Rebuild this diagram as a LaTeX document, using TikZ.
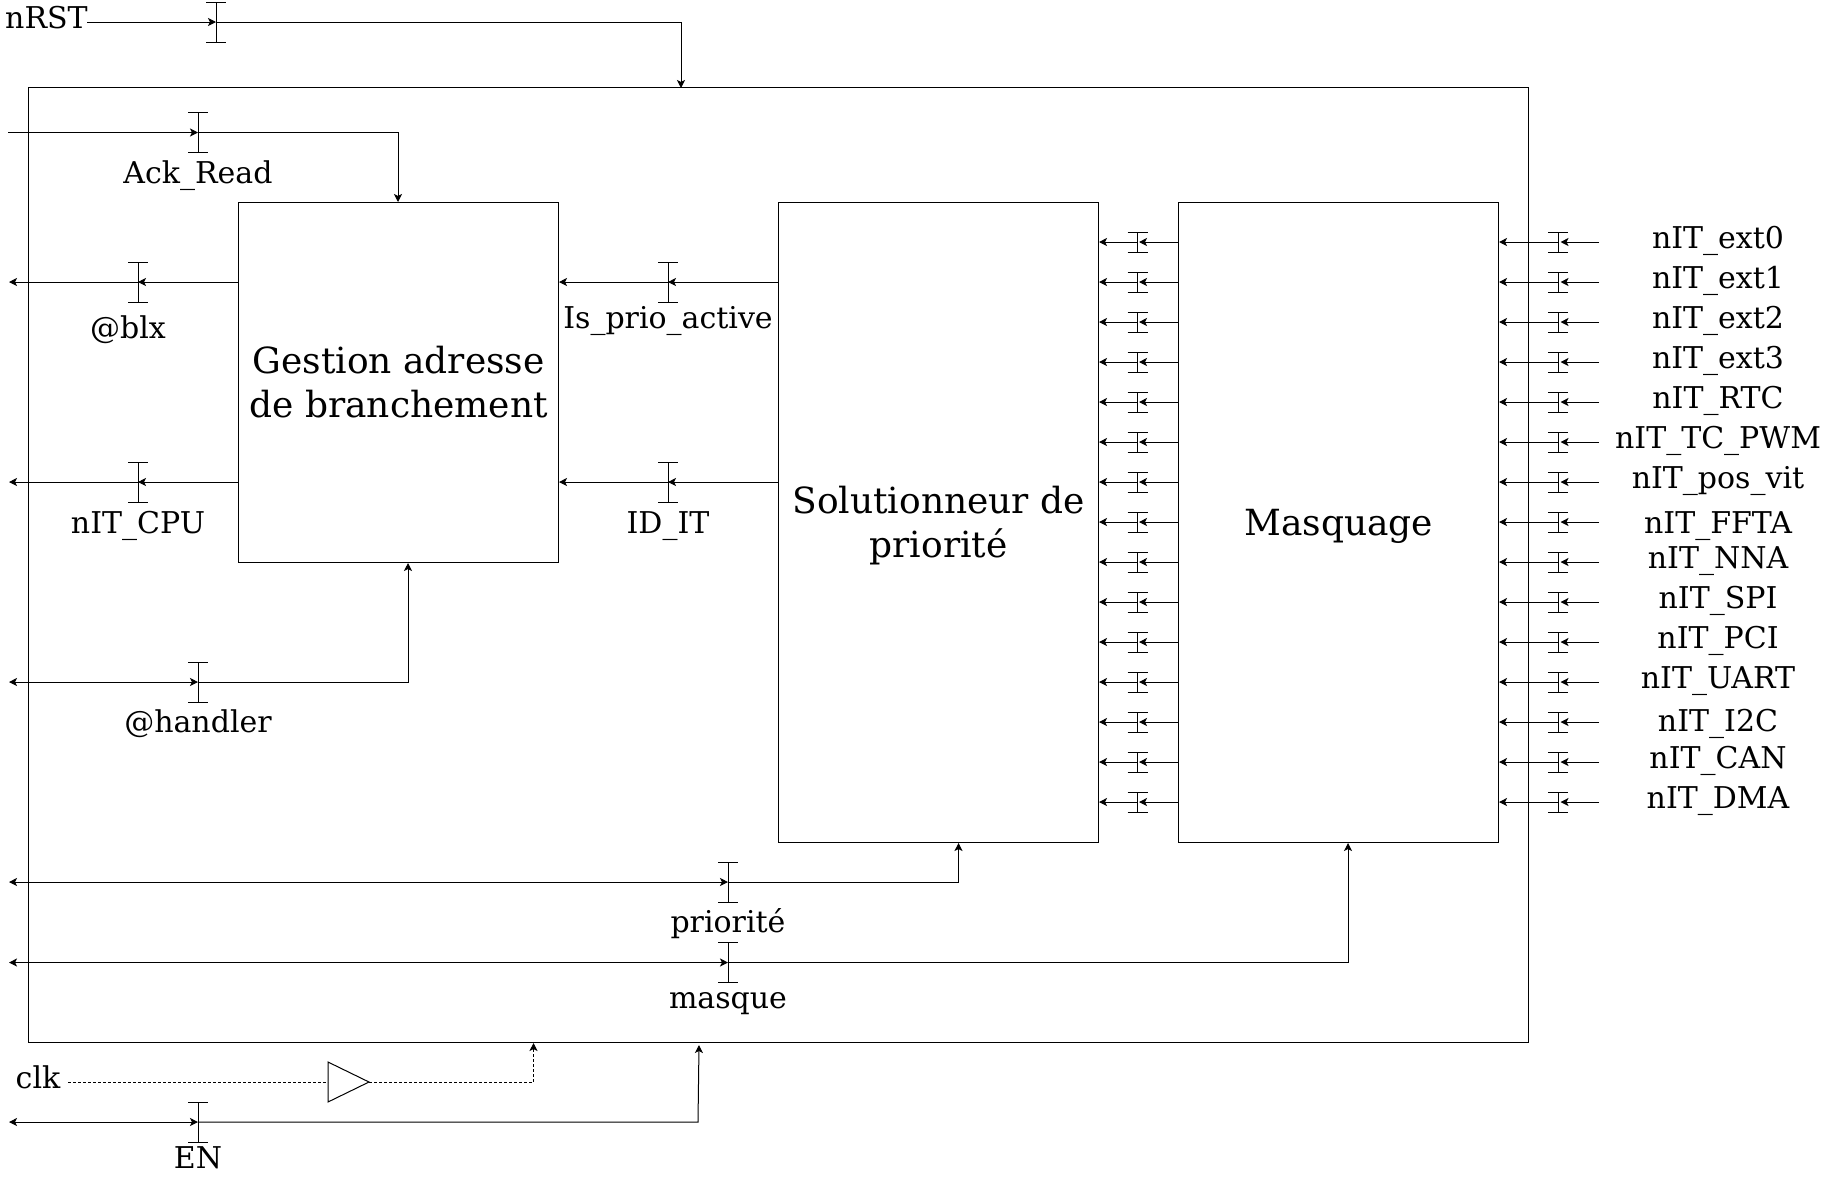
\documentclass[tikz,border=0pt]{standalone}
\usepackage{fontspec}
\setmainfont{DejaVu Serif}
\usetikzlibrary{arrows.meta,calc}
\tikzset{
  x=1pt,y=-1pt,
  wire/.style={line width=1pt,draw=black},
  arr/.style={wire,-{Stealth[length=8pt,width=8pt,inset=2pt]}},
  darr/.style={wire,{Stealth[length=8pt,width=8pt,inset=2pt]}-{Stealth[length=8pt,width=8pt,inset=2pt]}},
  blockbox/.style={draw=black,line width=1pt,minimum width=320pt,inner sep=0pt},
  blocktext/.style={align=center,font=\fontsize{36}{44}\selectfont,inner sep=0pt},
  lab/.style={font=\fontsize{30}{36}\selectfont,inner sep=0pt,anchor=base},
  bar/.style={line width=1pt,draw=black},
  pt/.style={inner sep=0pt,minimum size=0pt,outer sep=0pt},
  clockline/.style={dash pattern=on 3pt off 2pt},
}
% name, x, y, half height
\newcommand{\latchat}[4]{%
  \node[pt] (#1) at (#2,#3) {};
  \draw[bar] (#2,#3-#4) -- (#2,#3+#4);
  \draw[bar] (#2-10,#3-#4) -- (#2+10,#3-#4);
  \draw[bar] (#2-10,#3+#4) -- (#2+10,#3+#4);
}
\begin{document}
\begin{tikzpicture}
\useasboundingbox (0,0) rectangle (1822,1176);
% blocks
\node[draw,line width=1pt,minimum width=1500pt,minimum height=955pt,inner sep=0pt,anchor=north west] (top) at (28,87) {};
\node[blockbox,minimum height=360pt,anchor=north west] (gest) at (238,202) {};
\node[blocktext] (gestT) at (398.7,382) {Gestion adresse\\de branchement};
\node[blockbox,minimum height=640pt,anchor=north west] (sol) at (778,202) {};
\node[blocktext] (solT) at (938.7,526) {Solutionneur de\\priorité};
\node[blockbox,minimum height=640pt,anchor=north west] (mas) at (1178,202) {};
\node[blocktext] (masT) at (1338.7,526) {Masquage};
% nRST
\node[lab,anchor=base west] (nrst) at (5,28) {nRST};
\latchat{lrst}{216}{22}{20}
\coordinate (rstS) at (87,22);
\coordinate (rstT) at (681,88);
\draw[arr] (rstS) -- (lrst);
\draw[arr] (lrst) -| (rstT);
% Ack_Read
\coordinate (ackS) at (8,132.5);
\coordinate (ackT) at (398,202);
\latchat{lack}{198}{132.5}{20}
\draw[arr] (ackS) -- (lack);
\draw[arr] (lack) -| (ackT);
\node[lab] (tack) at (198,183) {Ack\_Read};
% blx
\coordinate (blxS) at (238,282);
\coordinate (blxE) at (9,282);
\latchat{lblx}{138}{282}{20}
\draw[arr] (blxS) -- (lblx);
\draw[arr] (lblx) -- (blxE);
\node[lab] (tblx) at (128,338) {@blx};
% nIT_CPU
\coordinate (cpuS) at (238,482);
\coordinate (cpuE) at (9,482);
\latchat{lcpu}{138}{482}{20}
\draw[arr] (cpuS) -- (lcpu);
\draw[arr] (lcpu) -- (cpuE);
\node[lab] (tcpu) at (138,533) {nIT\_CPU};
% handler
\coordinate (hanE) at (9,682);
\coordinate (hanT) at (408,563);
\latchat{lhan}{198}{682}{20}
\draw[darr] (hanE) -- (lhan);
\draw[arr] (lhan) -| (hanT);
\node[lab] (than) at (198,732) {@handler};
% Is_prio_active
\coordinate (prS) at (778,282);
\coordinate (prE) at (559,282);
\latchat{lpr}{668}{282}{20}
\draw[arr] (prS) -- (lpr);
\draw[arr] (lpr) -- (prE);
\node[lab] (tpr) at (668,328) {Is\_prio\_active};
% ID_IT
\coordinate (idS) at (778,482);
\coordinate (idE) at (559,482);
\latchat{lid}{668}{482}{20}
\draw[arr] (idS) -- (lid);
\draw[arr] (lid) -- (idE);
\node[lab] (tid) at (668,533) {ID\_IT};
% priorite
\coordinate (priE) at (9,882);
\coordinate (priT) at (958.5,843);
\latchat{lpri}{728}{882}{20}
\draw[darr] (priE) -- (lpri);
\draw[arr] (lpri) -| (priT);
\node[lab] (tpri) at (728,932) {priorité};
% masque
\coordinate (masE) at (9,962.5);
\coordinate (masK) at (1348,843);
\latchat{lmas}{728}{962.5}{20}
\draw[darr] (masE) -- (lmas);
\draw[arr] (lmas) -| (masK);
\node[lab] (tmas) at (728,1008) {masque};
% clk
\node[lab] (clk) at (38,1088) {clk};
\coordinate (clkS) at (68,1082);
\coordinate (clkT) at (533.5,1043);
\node[pt] (bufL) at (328,1082) {};
\node[pt] (bufR) at (369,1082) {};
\draw[wire] (328,1062) -- (369,1082) -- (328,1102) -- cycle;
\draw[wire,clockline] (clkS) -- (bufL);
\draw[arr,clockline] (bufR) -| (clkT);
% EN
\coordinate (enE) at (9,1122);
\coordinate (enT) at (699,1045);
\latchat{len}{198}{1122}{20}
\draw[darr] (enE) -- (len);
\draw[arr] (len) -- (698,1122) -- (enT);
\node[lab] (ten) at (198,1168) {EN};
% bus rows
\foreach \i/\t/\ty in {0/nIT\_ext0/248,1/nIT\_ext1/288,2/nIT\_ext2/328,3/nIT\_ext3/368,4/nIT\_RTC/408,5/nIT\_TC\_PWM/448,6/nIT\_pos\_vit/488,7/nIT\_FFTA/533,8/nIT\_NNA/568,9/nIT\_SPI/608,10/nIT\_PCI/648,11/nIT\_UART/688,12/nIT\_I2C/731,13/nIT\_CAN/768,14/nIT\_DMA/808}{
  \pgfmathsetmacro{\yy}{242+40*\i}
  \coordinate (mS\i) at (1178,\yy);
  \coordinate (mE\i) at (1099,\yy);
  \latchat{lm\i}{1137.5}{\yy}{10}
  \draw[arr,shorten >=1.5pt] (mS\i) -- (lm\i);
  \draw[arr] (lm\i) -- (mE\i);
  \coordinate (rS\i) at (1599,\yy);
  \coordinate (rE\i) at (1499,\yy);
  \latchat{lr\i}{1558}{\yy}{10}
  \draw[arr,shorten >=2.5pt] (rS\i) -- (lr\i);
  \draw[arr] (lr\i) -- (rE\i);
  \node[lab] (tr\i) at (1718,\ty) {\t};
}
\end{tikzpicture}
\end{document}
